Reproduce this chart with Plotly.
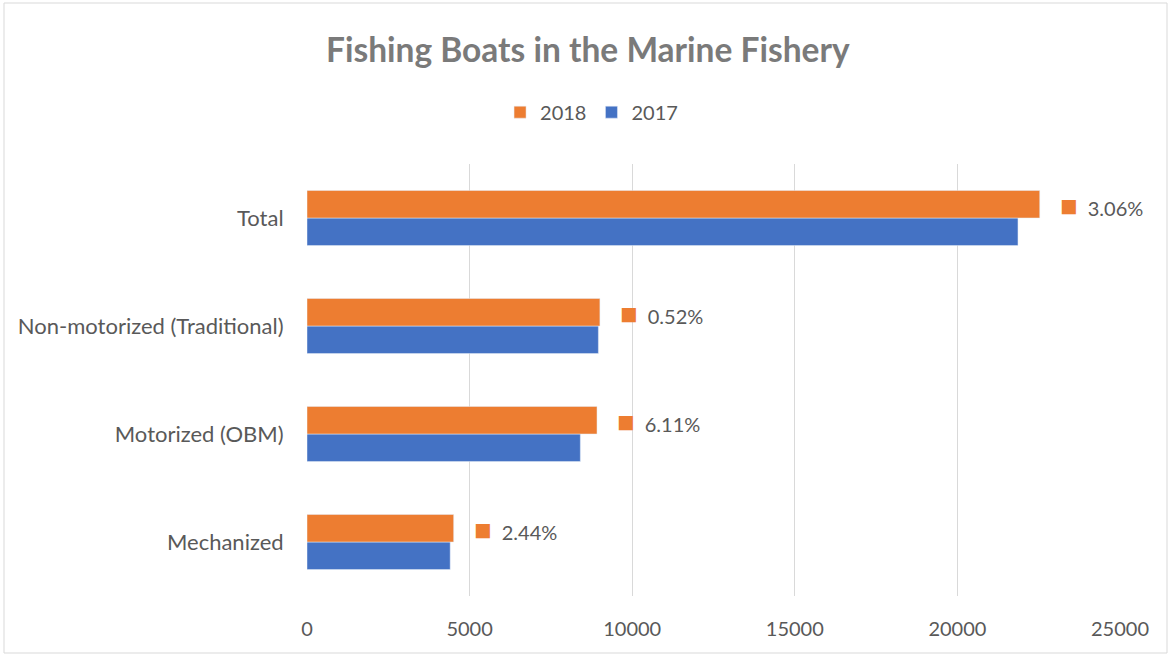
import plotly.graph_objects as go

categories = ["Mechanized", "Motorized (OBM)", "Non-motorized (Traditional)", "Total"]
values_2017 = [4403, 8405, 8960, 21863]
values_2018 = [4510, 8918, 9007, 22532]
pct_labels = ["2.44%", "6.11%", "0.52%", "3.06%"]
tick_vals = [0, 5000, 10000, 15000, 20000, 25000]
tick_text = ["0", "5000", "10000", "15000", "20000", "25000"]

ORANGE = "#ED7D31"
BLUE = "#4472C4"
GRAY = "#595959"
FONT = "Lato, Carlito, 'Open Sans', sans-serif"

fig = go.Figure()
fig.add_trace(go.Bar(name="2017", y=categories, x=values_2017, orientation="h",
                     marker=dict(color=BLUE), hoverinfo="x"))
fig.add_trace(go.Bar(name="2018", y=categories, x=values_2018, orientation="h",
                     marker=dict(color=ORANGE), hoverinfo="x"))

for cat, v, lab in zip(categories, values_2018, pct_labels):
    fig.add_annotation(x=v, y=cat, xref="x", yref="y", xanchor="left", yanchor="middle",
                       xshift=18, yshift=14, showarrow=False,
                       text=f"<span style='color:{ORANGE};font-size:29px'>■</span>&nbsp;&nbsp;{lab}",
                       font=dict(size=20, color=GRAY, family=FONT))

fig.update_layout(
    width=1171, height=656,
    margin=dict(l=307, r=51, t=164, b=60, autoexpand=False),
    paper_bgcolor="white", plot_bgcolor="white",
    barmode="group", bargap=0.49, bargroupgap=0,
    title=dict(text="<b>Fishing Boats in the Marine Fishery</b>", x=0.502, xanchor="center",
               y=0.923, yanchor="middle", font=dict(size=33.5, color="#7a7a7a", family=FONT)),
    legend=dict(orientation="h", x=0.35, xanchor="center", y=1.12, yanchor="middle",
                traceorder="reversed", font=dict(size=20, color=GRAY, family=FONT),
                itemwidth=30),
    xaxis=dict(range=[0, 25000], tickvals=tick_vals, ticktext=tick_text, showgrid=True,
               gridcolor="#d9d9d9", gridwidth=1, zeroline=False, showline=False,
               automargin=False,
               tickfont=dict(size=20, color=GRAY, family=FONT), ticks="outside",
               ticklen=15, tickcolor="rgba(0,0,0,0)"),
    yaxis=dict(categoryorder="array", categoryarray=categories, showgrid=False,
               showline=False, ticks="outside", ticklen=18, tickcolor="rgba(0,0,0,0)",
               automargin=False,
               tickfont=dict(size=22, color=GRAY, family=FONT)),
    showlegend=True,
)
fig.add_shape(type="rect", xref="paper", yref="paper",
              x0=-303/813, x1=1+47/813, y0=-57/432, y1=1+161/432,
              line=dict(color="#d9d9d9", width=1))

fig.write_html("out.html", config={"displayModeBar": False},
               post_script="document.body.style.margin='0';document.body.style.overflow='hidden';")
